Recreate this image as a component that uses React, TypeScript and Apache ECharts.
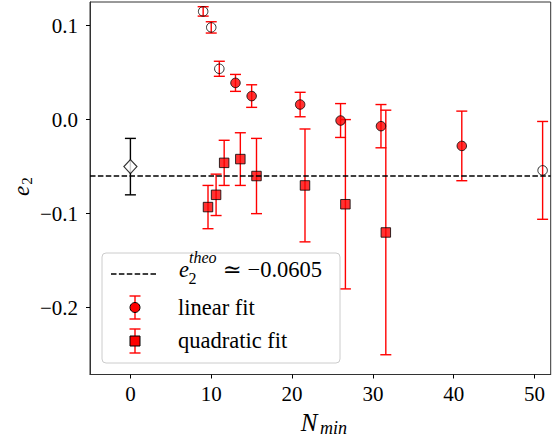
import React, { useEffect, useRef } from "react";
import * as echarts from "echarts";

// ---- data ----
const linearX = [13, 15, 21, 26, 31, 41];
const linearY = [0.039, 0.025, 0.016, -0.001, -0.007, -0.028];
const linearErr = [0.009, 0.012, 0.013, 0.018, 0.023, 0.037];

const quadX = [9.6, 10.6, 11.6, 13.6, 15.6, 21.6, 26.6, 31.6];
const quadY = [-0.093, -0.08, -0.046, -0.042, -0.06, -0.07, -0.09, -0.12];
const quadErr = [0.023, 0.022, 0.024, 0.028, 0.04, 0.06, 0.09, 0.13];

const openX = [9, 10, 11, 51];
const openY = [0.115, 0.098, 0.054, -0.054];
const openErr = [0.005, 0.006, 0.008, 0.052];

const refX = [0];
const refY = [-0.05];
const refErr = [0.03];

const THEO = -0.0605;
const xTicks = [0, 10, 20, 30, 40, 50];
const yTicks = [-0.2, -0.1, 0, 0.1];

const FONT = "'Liberation Serif', 'DejaVu Serif', serif";
const RED = "#ff0000";

const zip3 = (a: number[], b: number[], c: number[]) => a.map((v, i) => [v, b[i], c[i]]);

function errSeries(data: number[][], color: string) {
  return {
    type: "custom",
    silent: true,
    z: 2,
    data,
    renderItem: (params: any, api: any) => {
      const x = api.value(0);
      const y = api.value(1);
      const e = api.value(2);
      const top = api.coord([x, y + e]);
      const bot = api.coord([x, y - e]);
      const cw = 5.5;
      const st = { stroke: color, lineWidth: 1.4 };
      return {
        type: "group",
        children: [
          { type: "line", shape: { x1: top[0], y1: top[1], x2: bot[0], y2: bot[1] }, style: st },
          { type: "line", shape: { x1: top[0] - cw, y1: top[1], x2: top[0] + cw, y2: top[1] }, style: st },
          { type: "line", shape: { x1: bot[0] - cw, y1: bot[1], x2: bot[0] + cw, y2: bot[1] }, style: st },
        ],
      };
    },
  };
}

function fmtY(v: number) {
  const r = Math.round(v * 10) / 10;
  return (r < 0 ? "\u2212" : "") + Math.abs(r).toFixed(1);
}

export default function App() {
  const ref = useRef<HTMLDivElement>(null);
  useEffect(() => {
    const chart = echarts.init(ref.current!, null, { renderer: "svg" });
    const labelStyle = { fontFamily: FONT, fontSize: 21, color: "#000" };
    const legendText = (text: string, x: number, y: number, extra: any = {}) => ({
      type: "text",
      x,
      y,
      z: 101,
      style: { text, fontFamily: FONT, fontSize: 22.5, fill: "#000", verticalAlign: "middle", ...extra },
    });
    const errGlyph = (cx: number, y1: number, y2: number) => [
      { type: "line", z: 101, shape: { x1: cx, y1, x2: cx, y2 }, style: { stroke: RED, lineWidth: 1.4 } },
      { type: "line", z: 101, shape: { x1: cx - 5.5, y1, x2: cx + 5.5, y2: y1 }, style: { stroke: RED, lineWidth: 1.4 } },
      { type: "line", z: 101, shape: { x1: cx - 5.5, y1: y2, x2: cx + 5.5, y2 }, style: { stroke: RED, lineWidth: 1.4 } },
    ];
    chart.setOption({
      animation: false,
      grid: { left: 90, right: 8.3, top: 2, bottom: 68.5, show: true, borderColor: "#333", borderWidth: 1, backgroundColor: "transparent" },
      xAxis: {
        type: "value",
        min: -5,
        max: 52,
        splitLine: { show: false },
        axisLine: { show: true, onZero: false, lineStyle: { color: "#333", width: 1 } },
        axisTick: { show: true, inside: false, length: 4, customValues: xTicks, lineStyle: { color: "#000" } },
        axisLabel: { ...labelStyle, margin: 9, customValues: xTicks, formatter: (v: number) => String(Math.round(v)) },
      },
      yAxis: {
        type: "value",
        min: -0.271,
        max: 0.125,
        splitLine: { show: false },
        axisLine: { show: true, onZero: false, lineStyle: { color: "#333", width: 1 } },
        axisTick: { show: true, inside: false, length: 4, customValues: yTicks, lineStyle: { color: "#000" } },
        axisLabel: { ...labelStyle, margin: 12, customValues: yTicks, formatter: fmtY },
      },
      series: [
        {
          type: "line",
          data: [],
          silent: true,
          markLine: {
            silent: true,
            symbol: "none",
            label: { show: false },
            lineStyle: { color: "#000", width: 1.5, type: [5.5, 2.4] },
            data: [{ yAxis: THEO }],
          },
        },
        errSeries(zip3(openX, openY, openErr), RED),
        errSeries(zip3(linearX, linearY, linearErr), RED),
        errSeries(zip3(quadX, quadY, quadErr), RED),
        errSeries(zip3(refX, refY, refErr), "#000"),
        {
          type: "scatter",
          z: 3,
          symbol: "circle",
          symbolSize: 9.5,
          data: openX.map((x, i) => [x, openY[i]]),
          itemStyle: { color: "transparent", borderColor: "#000", borderWidth: 1 },
        },
        {
          type: "scatter",
          z: 3,
          symbol: "circle",
          symbolSize: 9.5,
          data: linearX.map((x, i) => [x, linearY[i]]),
          itemStyle: { color: RED, borderColor: "#000", borderWidth: 1 },
        },
        {
          type: "scatter",
          z: 3,
          symbol: "rect",
          symbolSize: 9.5,
          data: quadX.map((x, i) => [x, quadY[i]]),
          itemStyle: { color: RED, borderColor: "#000", borderWidth: 1 },
        },
        {
          type: "scatter",
          z: 3,
          symbol: "diamond",
          symbolSize: [13, 14],
          data: refX.map((x, i) => [x, refY[i]]),
          itemStyle: { color: "#fff", borderColor: "#000", borderWidth: 1.2 },
        },
      ],
      graphic: [
        // axis names
        { type: "text", x: 309, y: 422, z: 101, style: { text: "N", fontFamily: FONT, fontStyle: "italic", fontSize: 25, fill: "#000", align: "center", verticalAlign: "middle" } },
        { type: "text", x: 320, y: 428, z: 101, style: { text: "min", fontFamily: FONT, fontStyle: "italic", fontSize: 18, fill: "#000", align: "left", verticalAlign: "middle" } },
        { type: "text", x: 21, y: 191, rotation: Math.PI / 2, z: 101, style: { text: "e", fontFamily: FONT, fontStyle: "italic", fontSize: 23, fill: "#000", align: "center", verticalAlign: "middle" } },
        { type: "text", x: 27, y: 181, rotation: Math.PI / 2, z: 101, style: { text: "2", fontFamily: FONT, fontSize: 15, fill: "#000", align: "center", verticalAlign: "middle" } },
        // legend
        { type: "rect", z: 100, shape: { x: 102, y: 253, width: 238, height: 110, r: 4 }, style: { fill: "rgba(255,255,255,0.8)", stroke: "#cccccc", lineWidth: 1 } },
        { type: "line", z: 101, shape: { x1: 111, y1: 274, x2: 158, y2: 274 }, style: { stroke: "#000", lineWidth: 1.5, lineDash: [5.5, 2.4] } },
        legendText("e", 179, 269, { fontStyle: "italic" }),
        legendText("theo", 189, 257, { fontStyle: "italic", fontSize: 16 }),
        legendText("2", 188.5, 278, { fontSize: 16 }),
        legendText("\u2243 \u22120.0605", 223, 269),
        ...errGlyph(135, 296, 319),
        { type: "circle", z: 102, shape: { cx: 135, cy: 307.5, r: 5 }, style: { fill: RED, stroke: "#000", lineWidth: 1 } },
        legendText("linear fit", 178, 307),
        ...errGlyph(135, 329, 353),
        { type: "rect", z: 102, shape: { x: 130, y: 336, width: 10, height: 10 }, style: { fill: RED, stroke: "#000", lineWidth: 1 } },
        legendText("quadratic fit", 178, 340),
      ],
    });
    return () => chart.dispose();
  }, []);
  return <div ref={ref} style={{ position: "fixed", left: 0, top: 0, width: 559, height: 443, background: "#fff" }} />;
}
